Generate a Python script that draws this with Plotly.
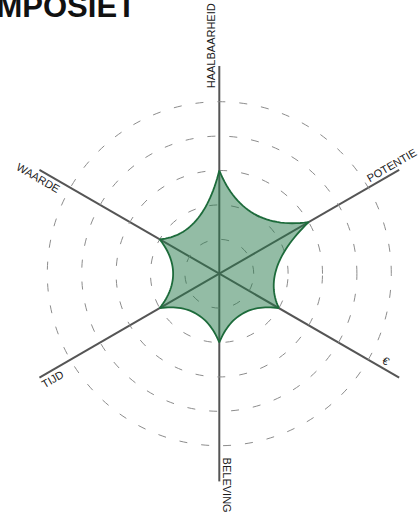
import math
import plotly.graph_objects as go

# ---------------- data ----------------
categories = ["HAALBAARHEID", "POTENTIE", "€", "BELEVING", "TIJD", "WAARDE"]
values = [3, 3, 2, 2, 2, 2]
grid_values = [1, 2, 3, 4, 5]
title_text = "COMPOSIET"

# ---------------- geometry / style ----------------
VIEW_W, H = 419, 517
W = 427                          # figure slightly wider than the view (right edge cropped)
CX, CY = 219.3, 273.7            # radar centre in px
UNIT = 34.4                      # px per radial unit
RPX = W - CX                     # polar radius in px
R_MAX = RPX / UNIT

n = len(categories)
thetas = [i * 360.0 / n for i in range(n)]   # clockwise from top

BEND = 0.55      # control point = BEND * chord midpoint  (concave edges)
STEPS = 30


def to_xy(r, th):
    phi = math.radians(90 - th)
    return r * math.cos(phi), r * math.sin(phi)


def to_rt(x, y):
    return math.hypot(x, y), (90 - math.degrees(math.atan2(y, x))) % 360


curve_r, curve_t = [], []
for i in range(n):
    p0 = to_xy(values[i], thetas[i])
    p2 = to_xy(values[(i + 1) % n], thetas[(i + 1) % n])
    c = (BEND * (p0[0] + p2[0]) / 2, BEND * (p0[1] + p2[1]) / 2)
    for s in range(STEPS):
        t = s / STEPS
        x = (1 - t) ** 2 * p0[0] + 2 * (1 - t) * t * c[0] + t * t * p2[0]
        y = (1 - t) ** 2 * p0[1] + 2 * (1 - t) * t * c[1] + t * t * p2[1]
        r, th = to_rt(x, y)
        curve_r.append(r)
        curve_t.append(th)
curve_r.append(curve_r[0])
curve_t.append(curve_t[0])

fig = go.Figure()
fig.add_trace(go.Scatterpolar(
    r=curve_r, theta=curve_t, mode="lines", fill="toself",
    fillcolor="rgba(40,122,76,0.5)",
    line=dict(color="#1d6b3b", width=1.8),
    hoverinfo="skip", showlegend=False,
))

fig.update_layout(
    width=W, height=H,
    margin=dict(l=0, r=0, t=0, b=0),
    paper_bgcolor="white",
    showlegend=False,
    polar=dict(
        domain=dict(x=[(CX - RPX) / W, 1.0],
                    y=[(H - CY - RPX) / H, (H - CY + RPX) / H]),
        bgcolor="white",
        radialaxis=dict(range=[0, R_MAX], tickvals=grid_values,
                        showticklabels=False, ticks="", showline=False,
                        gridcolor="#8c8c8c", gridwidth=1,
                        griddash="8px,14px"),
        angularaxis=dict(type="linear", rotation=90, direction="clockwise",
                         tickvals=thetas, showticklabels=False, ticks="",
                         showline=False, gridcolor="#555555", gridwidth=1.5),
    ),
)

# ---------------- labels along spokes ----------------
LABEL_ALONG = [6.62, 5.93, 5.47, 6.14, 5.72, 5.94]   # radial units of label centre
LABEL_SIDE = 8.0                                     # px to the left of the outward spoke
for cat, th, along in zip(categories, thetas, LABEL_ALONG):
    phi = math.radians(90 - th)
    ux, uy = math.cos(phi), math.sin(phi)
    nx, ny = -uy, ux
    px = CX + along * UNIT * ux + LABEL_SIDE * nx
    py = CY - (along * UNIT * uy + LABEL_SIDE * ny)
    ang = -math.degrees(math.atan2(uy, ux))
    if ang < -90 or ang > 90:
        ang += 180 if ang < 0 else -180
    fig.add_annotation(
        x=px / W, y=1 - py / H, xref="paper", yref="paper",
        text=cat, showarrow=False, textangle=ang,
        xanchor="center", yanchor="middle",
        font=dict(family="Liberation Sans, Arial, sans-serif", size=11, color="#1a1a1a"),
    )

# title: "CO" falls off the left edge, as in the original
TITLE_SIZE = 31
fig.add_annotation(
    x=-52 / W, y=1 + 13 / H, xref="paper", yref="paper",
    text="<b>" + title_text + "</b>", showarrow=False,
    xanchor="left", yanchor="top",
    font=dict(family="Liberation Sans, Arial, sans-serif", size=TITLE_SIZE, color="#111111"),
)

fig.write_html(
    "out.html",
    config={"displayModeBar": False},
    post_script="document.body.style.margin='0';document.body.style.overflow='hidden';",
)
